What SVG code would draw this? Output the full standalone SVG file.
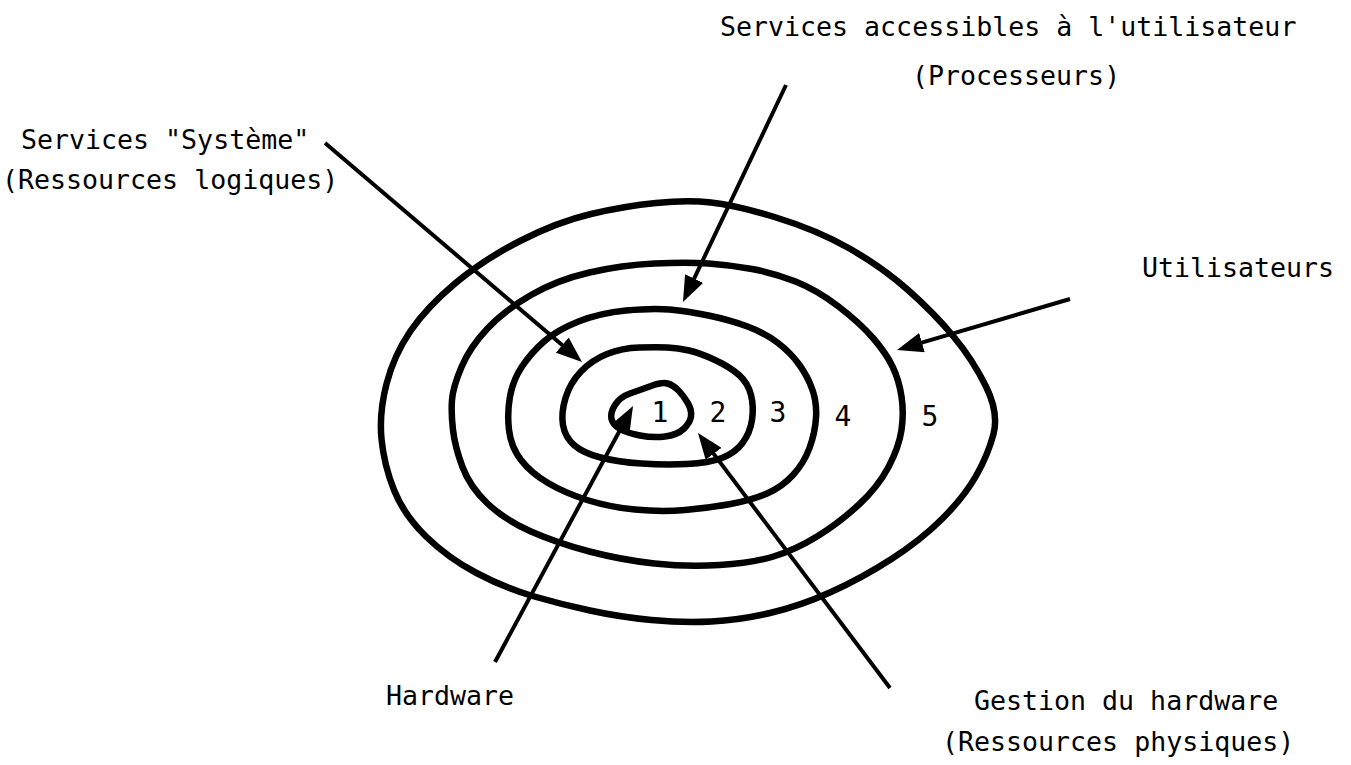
<svg xmlns="http://www.w3.org/2000/svg" width="1351" height="765" viewBox="0 0 1351 765">
<style>
.ring{fill:none;stroke:#000;stroke-width:6.5;stroke-linejoin:round}
.lbl{font-family:"DejaVu Sans Mono","Liberation Mono",monospace;font-size:26.6px;fill:#000}
.num{font-family:"DejaVu Sans Mono","Liberation Mono",monospace;font-size:28px;fill:#000;text-anchor:middle}
.arr{fill:none;stroke:#000;stroke-width:4;marker-end:url(#ah)}
</style>
<defs>
<marker id="ah" markerUnits="userSpaceOnUse" markerWidth="26" markerHeight="20" viewBox="0 0 26 20" refX="18" refY="10" orient="auto">
<path d="M0,0 L26,10 L0,20 Z" fill="#000"/>
</marker>
</defs>
<rect width="1351" height="765" fill="#fff"/>
<g id="ring5">
<path class="ring" d="M656,203 Q687,200 711,202.5 Q735,205 776,217.5 Q817,230 849.5,248.5 Q882,267 908,290 Q934,313 953.5,336.5 Q973,360 986,386.5 Q999,413 993.5,434 Q988,455 976,476 Q964,497 942.5,518.5 Q921,540 891.5,559 Q862,578 831,592 Q800,606 770,613 Q740,620 711.5,621.5 Q683,623 651.5,620 Q620,617 590,610.5 Q560,604 532.5,596 Q505,588 476.5,573 Q448,558 426,536.5 Q404,515 394,490 Q384,465 381.5,439 Q379,413 386.5,384 Q394,355 410.5,331 Q427,307 455,283.5 Q483,260 520,241 Q557,222 591,214 Q625,206 656,203 Z"/>
<text class="num" x="930" y="426">5</text>
</g>
<g id="ring4">
<path class="ring" d="M654.5,263.5 Q687,262 708.5,263.5 Q730,265 752,269 Q774,273 795.5,281.5 Q817,290 838.5,306.5 Q860,323 873,338 Q886,353 892.5,366.5 Q899,380 901.5,396.5 Q904,413 901.5,430 Q899,447 888.5,467 Q878,487 858.5,505 Q839,523 817,536.5 Q795,550 773.5,556.5 Q752,563 719.5,565 Q687,567 654.5,563.5 Q622,560 589.5,551.5 Q557,543 531,531.5 Q505,520 487.5,503.5 Q470,487 462.5,467 Q455,447 453,430 Q451,413 452,400 Q453,387 461.5,367 Q470,347 487.5,328.5 Q505,310 531,295 Q557,280 589.5,272.5 Q622,265 654.5,263.5 Z"/>
<text class="num" x="843" y="426">4</text>
</g>
<g id="ring3">
<path class="ring" d="M626,310.5 Q652,308 669.5,309.5 Q687,311 708.5,315.5 Q730,320 747.5,326.5 Q765,333 778,343 Q791,353 799.5,365 Q808,377 812.5,390 Q817,403 816,418 Q815,433 809.5,448 Q804,463 793,475 Q782,487 767,493.5 Q752,500 730.5,504 Q709,508 685,510 Q661,512 635,509.5 Q609,507 587,500 Q565,493 548,483 Q531,473 521,460 Q511,447 509,430 Q507,413 510,396.5 Q513,380 522,366.5 Q531,353 544,341.5 Q557,330 578.5,321.5 Q600,313 626,310.5 Z"/>
<text class="num" x="778" y="422">3</text>
</g>
<g id="ring2">
<path class="ring" d="M639.5,347.5 Q657,347 667.5,347.5 Q678,348 689,350.5 Q700,353 715,360 Q730,367 739,375 Q748,383 751,395 Q754,407 752,420 Q750,433 742.5,443 Q735,453 722,458 Q709,463 687,464 Q665,465 641.5,463.5 Q618,462 600.5,457.5 Q583,453 574,445 Q565,437 563,425 Q561,413 565.5,398 Q570,383 581,371.5 Q592,360 607,354 Q622,348 639.5,347.5 Z"/>
<text class="num" x="718" y="422">2</text>
</g>
<g id="ring1">
<path class="ring" d="M651,386 Q662,382 667.5,383.5 Q673,385 678,390 Q683,395 687.5,402.5 Q692,410 691,416.5 Q690,423 683.5,429 Q677,435 665,436.5 Q653,438 640,435.5 Q627,433 620,429 Q613,425 611.5,419 Q610,413 615,405 Q620,397 630,393.5 Q640,390 651,386 Z"/>
<text class="num" x="660" y="422">1</text>
</g>
<g id="label-services-utilisateur">
<text class="lbl" x="720" y="36">Services accessibles à l'utilisateur</text>
<text class="lbl" x="912" y="85">(Processeurs)</text>
</g>
<g id="label-services-systeme">
<text class="lbl" x="21" y="149">Services "Système"</text>
<text class="lbl" x="2" y="189">(Ressources logiques)</text>
</g>
<g id="label-utilisateurs">
<text class="lbl" x="1142" y="277">Utilisateurs</text>
</g>
<g id="label-hardware">
<text class="lbl" x="386" y="705">Hardware</text>
</g>
<g id="label-gestion">
<text class="lbl" x="974" y="710">Gestion du hardware</text>
<text class="lbl" x="942" y="751">(Ressources physiques)</text>
</g>
<g id="connectors">
<path class="arr" d="M786,85 L686.4,294.8"/>
<path class="arr" d="M325,143 L575.9,356.8"/>
<path class="arr" d="M1070,299 L904.7,347.7"/>
<path class="arr" d="M495,662 L629.2,413"/>
<path class="arr" d="M890,688 L702.8,439.4"/>
</g>
</svg>
